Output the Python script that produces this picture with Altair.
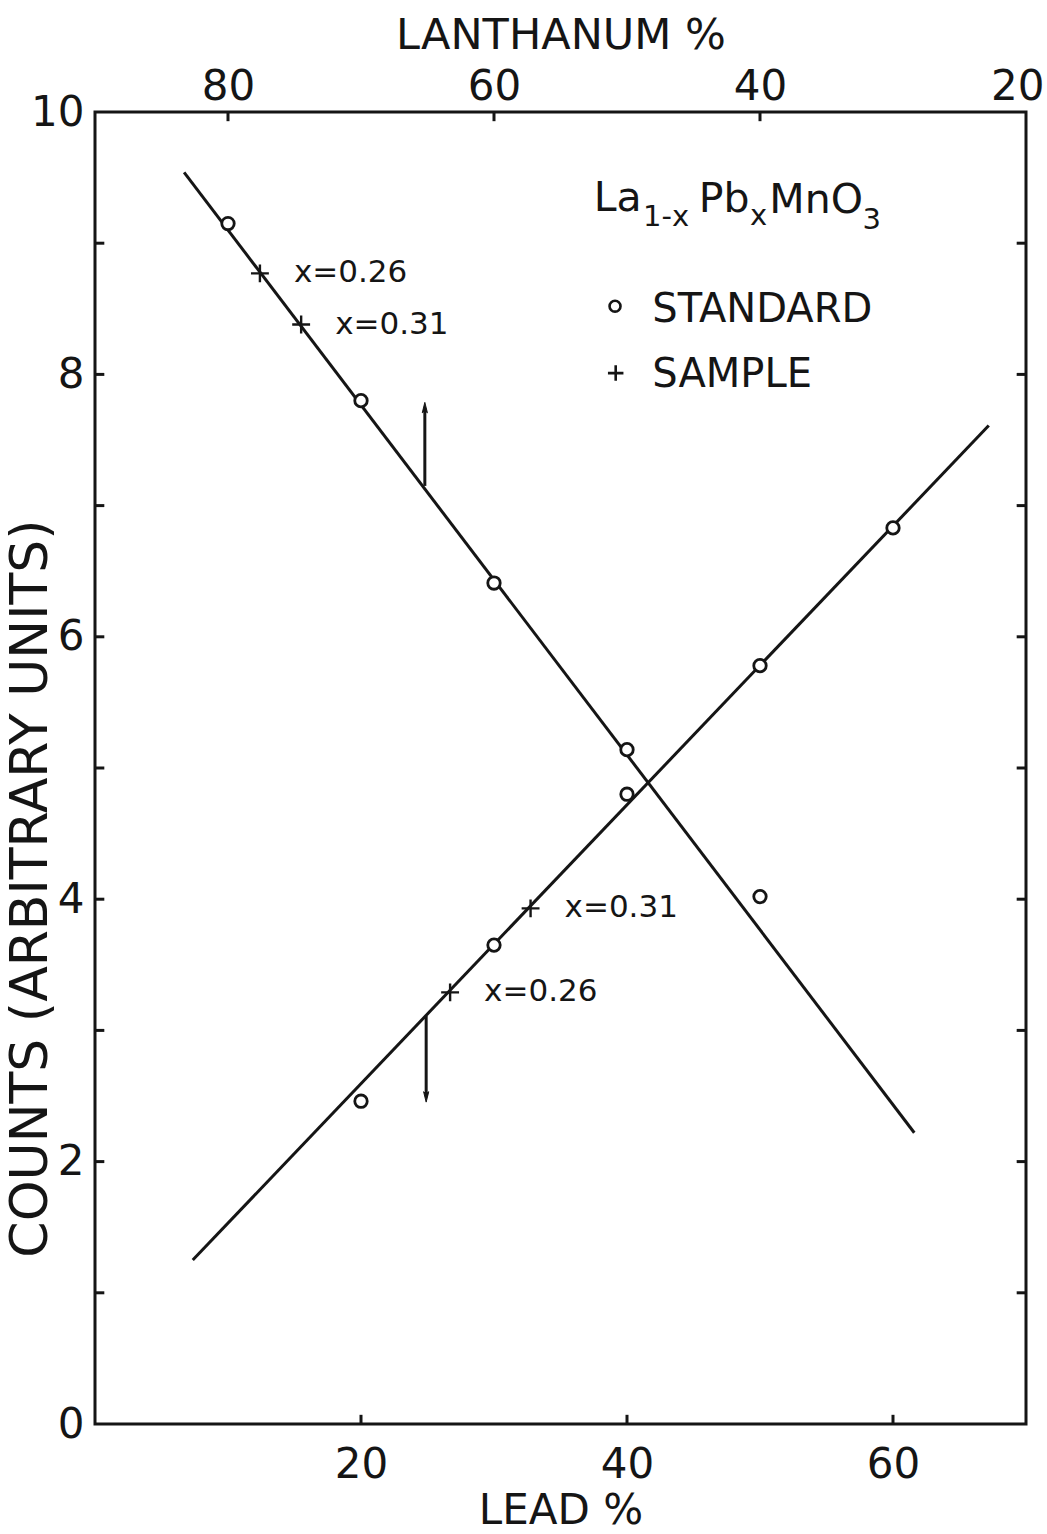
import altair as alt
import pandas as pd

# ---- calibration standards (lead %, counts) ----
std_falling_pb = [10, 20, 30, 40, 50]
std_falling_counts = [9.15, 7.80, 6.41, 5.14, 4.02]
std_rising_pb = [20, 30, 40, 50, 60]
std_rising_counts = [2.46, 3.65, 4.80, 5.78, 6.83]

# ---- measured samples ----
sample_pb = [12.4, 15.5, 26.7, 32.75]
sample_counts = [8.77, 8.38, 3.29, 3.93]
sample_labels = ["x=0.26", "x=0.31", "x=0.26", "x=0.31"]

# ---- fitted calibration lines (end points) ----
falling_pb = [6.7, 61.6]
falling_counts = [9.54, 2.22]
rising_pb = [7.35, 67.2]
rising_counts = [1.25, 7.61]

# ---- arrows marking the read-off composition ----
arrow_pb = [24.8, 24.9]
arrow_start = [7.15, 3.11]
arrow_end = [7.74, 2.50]
arrow_angle = [0, 180]

# ---- axes ----
lead_ticks = [20, 40, 60]
lanthanum_ticks = [80, 60, 40, 20]
lanthanum_inner_ticks = [80, 60, 40]
count_labels = [0, 2, 4, 6, 8, 10]
count_minor = [1, 2, 3, 4, 5, 6, 7, 8, 9]

PB_DOMAIN = [0, 70]
LA_DOMAIN = [90, 20]
COUNT_DOMAIN = [0, 10]
TICK_X = 0.7    # inward tick length in lead units
TICK_Y = 0.07   # inward tick length in count units

FONT = "DejaVu Sans"
INK = "#151515"
STROKE = 3

xs = alt.Scale(domain=PB_DOMAIN, nice=False, zero=False)
ys = alt.Scale(domain=COUNT_DOMAIN, nice=False, zero=False)

x_axis = alt.Axis(
    orient="bottom", values=lead_ticks, ticks=False, domain=False, grid=False,
    labelFontSize=42, labelPadding=20, labelFlush=False, labelColor=INK,
    title="LEAD %", titleFontSize=42, titleFontWeight="normal",
    titlePadding=5, titleColor=INK,
)
y_axis = alt.Axis(
    orient="left", values=count_labels, ticks=False, domain=False, grid=False,
    labelFontSize=42, labelPadding=11, labelFlush=False, labelColor=INK,
    title="COUNTS (ARBITRARY UNITS)", titleFontSize=52, titleFontWeight="normal",
    titleColor=INK, titleY=776, titleX=-38,
)
la_axis = alt.Axis(
    orient="top", values=lanthanum_ticks, ticks=False, domain=False, grid=False,
    labelFontSize=42, labelPadding=4, labelFlush=True, labelFlushOffset=18,
    labelColor=INK,
    title="LANTHANUM %", titleFontSize=43, titleFontWeight="normal",
    titlePadding=8, titleColor=INK,
)


def X(field):
    return alt.X(field, type="quantitative", scale=xs, axis=x_axis)


def Y(field):
    return alt.Y(field, type="quantitative", scale=ys, axis=y_axis)


# ---- tables ----
lines = pd.DataFrame({
    "pb": falling_pb + rising_pb,
    "counts": falling_counts + rising_counts,
    "line": ["falling"] * 2 + ["rising"] * 2,
})
standards = pd.DataFrame({
    "pb": std_falling_pb + std_rising_pb,
    "counts": std_falling_counts + std_rising_counts,
})
samples = pd.DataFrame({"pb": sample_pb, "counts": sample_counts, "label": sample_labels})
arrows = pd.DataFrame({"pb": arrow_pb, "counts": arrow_start, "counts2": arrow_end, "angle": arrow_angle})
side_ticks = pd.DataFrame({
    "pb": [PB_DOMAIN[0]] * len(count_minor) + [PB_DOMAIN[1]] * len(count_minor),
    "pb2": [PB_DOMAIN[0] + TICK_X] * len(count_minor) + [PB_DOMAIN[1] - TICK_X] * len(count_minor),
    "counts": count_minor + count_minor,
})
bottom_ticks = pd.DataFrame({
    "pb": lead_ticks,
    "counts": [COUNT_DOMAIN[0]] * len(lead_ticks),
    "counts2": [COUNT_DOMAIN[0] + TICK_Y] * len(lead_ticks),
})
top_ticks = pd.DataFrame({
    "la": lanthanum_inner_ticks,
    "counts": [COUNT_DOMAIN[1]] * len(lanthanum_inner_ticks),
    "counts2": [COUNT_DOMAIN[1] - TICK_Y] * len(lanthanum_inner_ticks),
})

# key and compound formula, placed in data units
key_symbols = pd.DataFrame({"pb": [39.1, 39.15], "counts": [8.52, 8.01], "kind": ["standard", "sample"]})
key_text = pd.DataFrame({"pb": [41.9, 41.9], "counts": [8.40, 7.905], "label": ["STANDARD", "SAMPLE"]})
formula_main = pd.DataFrame({"pb": [37.5, 45.4, 50.7], "counts": [9.244, 9.234, 9.227], "label": ["La", "Pb", "MnO"]})
formula_sub = pd.DataFrame({"pb": [41.2, 49.25, 57.7], "counts": [9.133, 9.138, 9.11], "label": ["1-x", "x", "3"]})

PLUS = "M-1,0L1,0M0,-1L0,1"
HEAD = "M0,-1L0.42,0.7L0,0.35L-0.42,0.7Z"

line_layer = alt.Chart(lines).mark_line(color=INK, strokeWidth=STROKE).encode(
    x=X("pb"), y=Y("counts"), detail="line:N"
)
std_layer = alt.Chart(standards).mark_point(
    shape="circle", filled=True, fill="white", stroke=INK, strokeWidth=2.8, size=155, opacity=1
).encode(x=X("pb"), y=Y("counts"))
sample_layer = alt.Chart(samples).mark_point(
    shape=PLUS, filled=False, stroke=INK, strokeWidth=2.4, size=320, opacity=1
).encode(x=X("pb"), y=Y("counts"))
sample_text = alt.Chart(samples).mark_text(
    align="left", baseline="middle", dx=34, fontSize=31, font=FONT, color=INK
).encode(x=X("pb"), y=Y("counts"), text="label:N")
arrow_shaft = alt.Chart(arrows).mark_rule(color=INK, strokeWidth=STROKE).encode(
    x=X("pb"), y=Y("counts"), y2="counts2:Q"
)
arrow_head = alt.Chart(arrows).mark_point(
    shape=HEAD, filled=True, fill=INK, stroke=INK, strokeWidth=1, size=150, opacity=1
).encode(x=X("pb"), y=Y("counts2"), angle=alt.Angle("angle:Q", scale=None))
side_tick_layer = alt.Chart(side_ticks).mark_rule(color=INK, strokeWidth=STROKE).encode(
    x=X("pb"), x2="pb2:Q", y=Y("counts")
)
bottom_tick_layer = alt.Chart(bottom_ticks).mark_rule(color=INK, strokeWidth=STROKE).encode(
    x=X("pb"), y=Y("counts"), y2="counts2:Q"
)
key_circle = alt.Chart(key_symbols).transform_filter("datum.kind == 'standard'").mark_point(
    shape="circle", filled=True, fill="white", stroke=INK, strokeWidth=2.6, size=120, opacity=1
).encode(x=X("pb"), y=Y("counts"))
key_plus = alt.Chart(key_symbols).transform_filter("datum.kind == 'sample'").mark_point(
    shape=PLUS, filled=False, stroke=INK, strokeWidth=2.6, size=240, opacity=1
).encode(x=X("pb"), y=Y("counts"))
key_label = alt.Chart(key_text).mark_text(
    align="left", baseline="alphabetic", fontSize=40, font=FONT, color=INK
).encode(x=X("pb"), y=Y("counts"), text="label:N")
formula_a = alt.Chart(formula_main).mark_text(
    align="left", baseline="alphabetic", fontSize=41, font=FONT, color=INK
).encode(x=X("pb"), y=Y("counts"), text="label:N")
formula_b = alt.Chart(formula_sub).mark_text(
    align="left", baseline="alphabetic", fontSize=29, font=FONT, color=INK
).encode(x=X("pb"), y=Y("counts"), text="label:N")

lead_panel = alt.layer(
    side_tick_layer, bottom_tick_layer, line_layer, arrow_shaft, arrow_head,
    std_layer, sample_layer, sample_text, key_circle, key_plus, key_label,
    formula_a, formula_b,
)

lanthanum_panel = alt.Chart(top_ticks).mark_rule(color=INK, strokeWidth=STROKE).encode(
    x=alt.X("la:Q", scale=alt.Scale(domain=LA_DOMAIN, nice=False, zero=False), axis=la_axis),
    y=Y("counts"),
    y2="counts2:Q",
)

chart = alt.layer(lead_panel, lanthanum_panel).resolve_scale(x="independent").properties(
    width=931,
    height=1312,
    autosize=alt.AutoSizeParams(type="none"),
    padding={"left": 95, "top": 112, "right": 21, "bottom": 110},
    background="white",
).configure(font=FONT).configure_view(
    stroke=INK, strokeWidth=3
).configure_axis(
    labelFont=FONT, titleFont=FONT
)

chart.save("out.html", embed_options={"renderer": "svg", "actions": False})
